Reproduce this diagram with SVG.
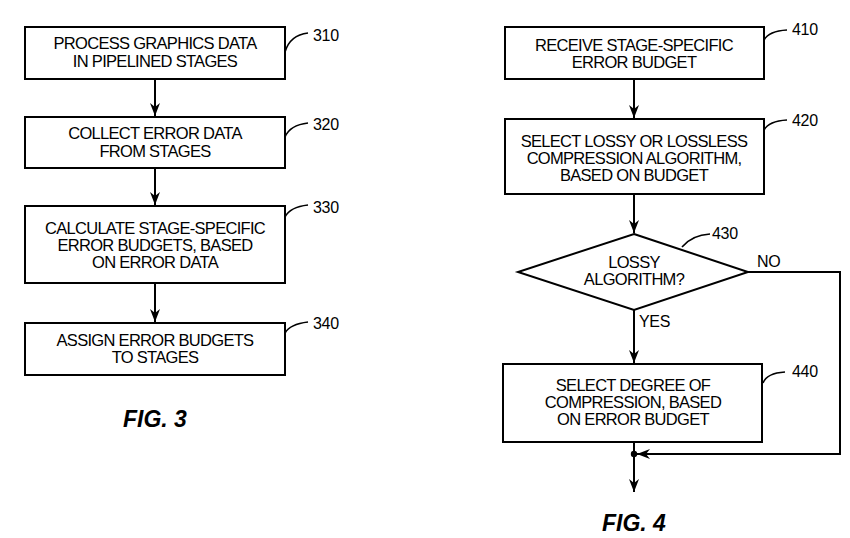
<svg xmlns="http://www.w3.org/2000/svg" width="850" height="538" viewBox="0 0 850 538">
<style>
.bx{fill:#fff;stroke:#000;stroke-width:2}
.t{font-family:"Liberation Sans",Arial,sans-serif;font-size:16.5px;letter-spacing:-0.7px;text-anchor:middle;fill:#000}
.lb{font-family:"Liberation Sans",Arial,sans-serif;font-size:16px;letter-spacing:-0.3px;fill:#000}
.ld{fill:none;stroke:#000;stroke-width:1.6}
.c{fill:none;stroke:#000;stroke-width:2}
.fig{font-family:"Liberation Sans",Arial,sans-serif;font-size:23px;font-weight:bold;font-style:italic;fill:#000}
</style>
<defs>
<marker id="ah" markerUnits="userSpaceOnUse" markerWidth="16" markerHeight="14" viewBox="-14 -7 16 14" refX="0" refY="0" orient="auto">
<path d="M0,0 L-13,-5 L-9,0 L-13,5 Z" fill="#000"/>
</marker>
</defs>
<rect width="850" height="538" fill="#fff"/>
<g id="connectors">
<path class="c" d="M155,79 L155,116" marker-end="url(#ah)"/>
<path class="c" d="M155,168 L155,205" marker-end="url(#ah)"/>
<path class="c" d="M155,283 L155,322" marker-end="url(#ah)"/>
<path class="c" d="M634,79 L634,118" marker-end="url(#ah)"/>
<path class="c" d="M634,194 L634,233" marker-end="url(#ah)"/>
<path class="c" d="M634,310 L634,363" marker-end="url(#ah)"/>
<path class="c" d="M634,442 L634,492" marker-end="url(#ah)"/>
<path class="c" d="M748,272 L840,272 L840,454 L637,454" marker-end="url(#ah)"/>
<circle cx="634" cy="454" r="3.2" fill="#000"/>
<text class="lb" x="757" y="267">NO</text>
<text class="lb" x="639" y="327">YES</text>
</g>
<g id="n310">
<rect class="bx" x="25" y="27" width="260" height="52"/>
<text class="t" x="155" y="49">PROCESS GRAPHICS DATA</text>
<text class="t" x="155" y="67">IN PIPELINED STAGES</text>
<path class="ld" d="M285,52 Q290,35 308,33"/>
<text class="lb" x="313" y="41">310</text>
</g>
<g id="n320">
<rect class="bx" x="25" y="117" width="260" height="51"/>
<text class="t" x="155" y="139">COLLECT ERROR DATA</text>
<text class="t" x="155" y="157">FROM STAGES</text>
<path class="ld" d="M285,137 Q290,125 308,123"/>
<text class="lb" x="313" y="130">320</text>
</g>
<g id="n330">
<rect class="bx" x="25" y="206" width="260" height="77"/>
<text class="t" x="155" y="234">CALCULATE STAGE-SPECIFIC</text>
<text class="t" x="155" y="251">ERROR BUDGETS, BASED</text>
<text class="t" x="155" y="268">ON ERROR DATA</text>
<path class="ld" d="M285,217 Q290,207 308,205"/>
<text class="lb" x="313" y="213">330</text>
</g>
<g id="n340">
<rect class="bx" x="25" y="323" width="260" height="52"/>
<text class="t" x="155" y="346">ASSIGN ERROR BUDGETS</text>
<text class="t" x="155" y="363">TO STAGES</text>
<path class="ld" d="M285,333 Q290,324 308,322"/>
<text class="lb" x="313" y="329">340</text>
</g>
<text id="fig3" class="fig" x="123" y="427">FIG. 3</text>
<g id="n410">
<rect class="bx" x="505" y="27" width="259" height="52"/>
<text class="t" x="634" y="51">RECEIVE STAGE-SPECIFIC</text>
<text class="t" x="634" y="68">ERROR BUDGET</text>
<path class="ld" d="M764,40 Q769,31 787,30"/>
<text class="lb" x="792" y="35">410</text>
</g>
<g id="n420">
<rect class="bx" x="505" y="119" width="259" height="75"/>
<text class="t" x="634" y="147">SELECT LOSSY OR LOSSLESS</text>
<text class="t" x="634" y="164">COMPRESSION ALGORITHM,</text>
<text class="t" x="634" y="181">BASED ON BUDGET</text>
<path class="ld" d="M764,130 Q769,121 787,120"/>
<text class="lb" x="792" y="126">420</text>
</g>
<g id="n430">
<path class="bx" d="M634,234 L748,272 L634,310 L518,272 Z"/>
<text class="t" x="634" y="268">LOSSY</text>
<text class="t" x="634" y="285">ALGORITHM?</text>
<path class="ld" d="M682,247 Q692,235 710,234"/>
<text class="lb" x="712" y="239">430</text>
</g>
<g id="n440">
<rect class="bx" x="503" y="364" width="259" height="78"/>
<text class="t" x="633" y="391">SELECT DEGREE OF</text>
<text class="t" x="633" y="408">COMPRESSION, BASED</text>
<text class="t" x="633" y="425">ON ERROR BUDGET</text>
<path class="ld" d="M763,383 Q767,373 785,372"/>
<text class="lb" x="792" y="377">440</text>
</g>
<text id="fig4" class="fig" x="602" y="531">FIG. 4</text>
</svg>
